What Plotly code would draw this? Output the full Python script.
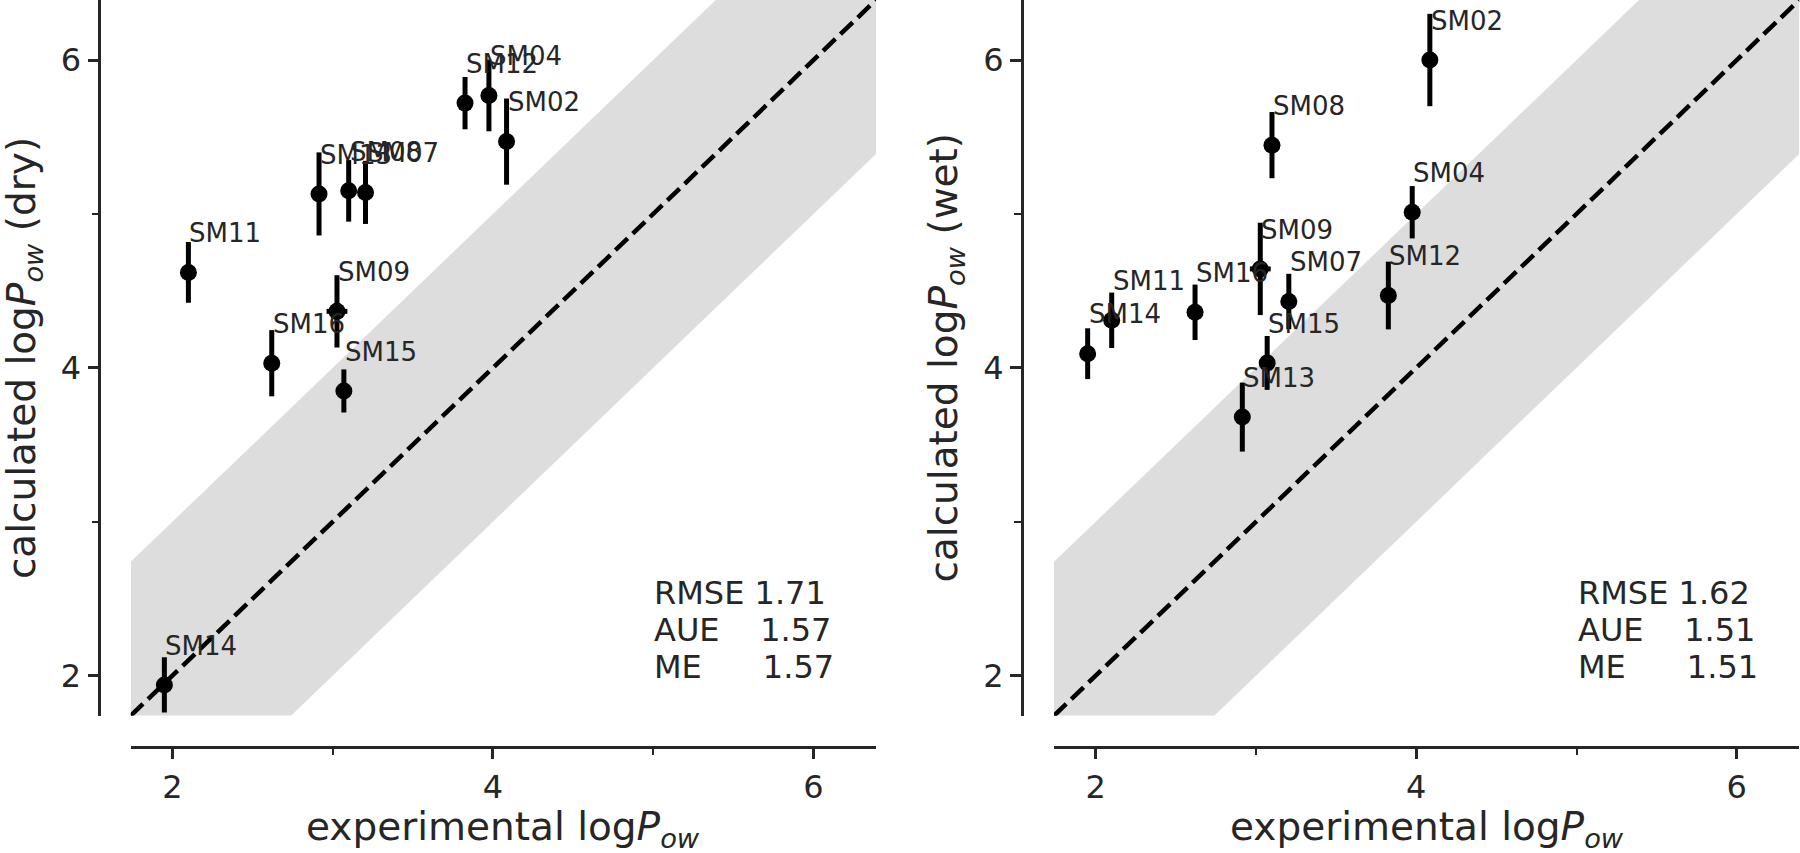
import plotly.graph_objects as go

# ---------------- data ----------------
compounds = ["SM02", "SM04", "SM07", "SM08", "SM09", "SM11", "SM12", "SM13", "SM14", "SM15", "SM16"]
exp_logp = [4.085, 3.975, 3.205, 3.10, 3.027, 2.10, 3.826, 2.915, 1.95, 3.07, 2.62]
exp_err = [0, 0, 0, 0, 0.065, 0, 0, 0, 0, 0, 0]
dry_calc = [5.47, 5.77, 5.14, 5.15, 4.367, 4.62, 5.72, 5.13, 1.94, 3.85, 4.03]
dry_err = [0.28, 0.233, 0.205, 0.20, 0.235, 0.197, 0.17, 0.27, 0.18, 0.14, 0.215]
wet_calc = [6.00, 5.011, 4.431, 5.447, 4.643, 4.309, 4.470, 3.68, 4.092, 4.032, 4.361]
wet_err = [0.30, 0.17, 0.18, 0.215, 0.30, 0.18, 0.22, 0.224, 0.165, 0.175, 0.18]

stats_dry = ["RMSE 1.71", "AUE    1.57", "ME      1.57"]
stats_wet = ["RMSE 1.62", "AUE    1.51", "ME      1.51"]

axis_range = [1.74, 6.39]
band_halfwidth = 1.0
major_ticks = [2, 4, 6]
minor_ticks = [3, 5]

# ---------------- style / layout ----------------
W, H = 1800, 853
FONT = "DejaVu Sans"
INK = "#262626"
BAND = "rgb(221,221,221)"
LABEL_DY = 0.19
STATS_Y = [2.453, 2.215, 1.977]
STATS_X = 5.0


def px_x(p):
    return p / W


def px_y(p):
    return 1 - p / H


fig = go.Figure()

panels = [
    dict(calc=dry_calc, err=dry_err, stats=stats_dry, xa="x", ya="y", name="dry",
         xdom=[130.7, 876.0], yline=99.3),
    dict(calc=wet_calc, err=wet_err, stats=stats_wet, xa="x2", ya="y2", name="wet",
         xdom=[1054.0, 1799.3], yline=1021.7),
]

lo, hi = axis_range
band_x = [lo, hi - band_halfwidth, hi, hi, lo + band_halfwidth, lo, lo]
band_y = [lo + band_halfwidth, hi, hi, hi - band_halfwidth, lo, lo, lo + band_halfwidth]

annotations = []
for i, p in enumerate(panels):
    fig.add_trace(go.Scatter(x=band_x, y=band_y, fill="toself", fillcolor=BAND,
                             line=dict(width=0), mode="lines", hoverinfo="skip",
                             showlegend=False, xaxis=p["xa"], yaxis=p["ya"]))
    fig.add_trace(go.Scatter(x=axis_range, y=axis_range, mode="lines",
                             line=dict(color="black", width=4.5, dash="17px,7px"),
                             showlegend=False, xaxis=p["xa"], yaxis=p["ya"]))
    fig.add_trace(go.Scatter(
        x=exp_logp, y=p["calc"], mode="markers", text=compounds,
        marker=dict(color="black", size=17),
        error_y=dict(type="data", array=p["err"], visible=True, color="black",
                     thickness=5, width=0),
        error_x=dict(type="data", array=exp_err, visible=True, color="black",
                     thickness=5, width=0),
        showlegend=False, xaxis=p["xa"], yaxis=p["ya"]))

    for name, xv, yv in zip(compounds, exp_logp, p["calc"]):
        annotations.append(dict(
            x=xv, y=yv + LABEL_DY, xref=p["xa"], yref=p["ya"], text=name,
            showarrow=False, xanchor="left", yanchor="bottom", borderpad=0,
            yshift=-6, font=dict(family=FONT, size=26, color=INK)))

    for line, yv in zip(p["stats"], STATS_Y):
        annotations.append(dict(
            x=STATS_X, y=yv, xref=p["xa"], yref=p["ya"],
            text=line.replace(" ", "\u00a0"), showarrow=False,
            xanchor="left", yanchor="bottom", borderpad=0, yshift=-7.5,
            font=dict(family=FONT, size=32, color=INK)))

    # axis titles
    xc = (p["xdom"][0] + p["xdom"][1]) / 2
    annotations.append(dict(
        x=px_x(xc), y=0, xref="paper", yref="paper",
        text="experimental log<i>P</i><sub><i>ow</i></sub>", showarrow=False,
        xanchor="center", yanchor="bottom", borderpad=0, yshift=-2,
        font=dict(family=FONT, size=39, color=INK)))
    annotations.append(dict(
        x=px_x(p["yline"] - 76), y=px_y(357.8), xref="paper", yref="paper",
        text="calculated log<i>P</i><sub><i>ow</i></sub> (" + p["name"] + ")",
        textangle=-90, showarrow=False, xanchor="center", yanchor="middle",
        borderpad=0, font=dict(family=FONT, size=39, color=INK)))

common_axis = dict(
    range=axis_range, showgrid=False, zeroline=False, showline=True,
    linecolor=INK, linewidth=2.5, ticks="outside", tickvals=major_ticks,
    ticktext=[str(t) for t in major_ticks], ticklen=11, tickwidth=2.5,
    tickcolor=INK, tickfont=dict(family=FONT, size=32, color=INK),
    minor=dict(tickvals=minor_ticks, ticks="outside", ticklen=7, tickwidth=2,
               tickcolor=INK, showgrid=False),
    anchor="free", automargin=False, fixedrange=True,
)

ydom = [px_y(715.7), 1.0]
xpos = px_y(746.7)

fig.update_layout(
    width=W, height=H, margin=dict(l=0, r=0, t=0, b=0),
    paper_bgcolor="white", plot_bgcolor="white",
    font=dict(family=FONT, color=INK),
    xaxis=dict(common_axis, domain=[px_x(130.7), px_x(876.0)], position=xpos),
    yaxis=dict(common_axis, domain=ydom, position=px_x(99.3)),
    xaxis2=dict(common_axis, domain=[px_x(1054.0), px_x(1799.3)], position=xpos),
    yaxis2=dict(common_axis, domain=ydom, position=px_x(1021.7)),
    annotations=annotations,
    showlegend=False,
)

fig.write_html("out.html", config={"displayModeBar": False},
               post_script="document.body.style.margin='0';document.body.style.overflow='hidden';")
